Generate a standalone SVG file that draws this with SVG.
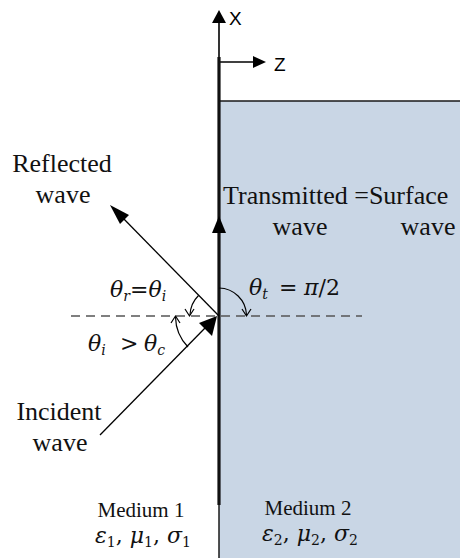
<svg xmlns="http://www.w3.org/2000/svg" width="460" height="558" viewBox="0 0 460 558">
<defs>
<style>
.lbl{font-family:"Liberation Serif","Times New Roman",serif;font-size:26px;fill:#111}
.med{font-family:"Liberation Serif","Times New Roman",serif;font-size:21px;fill:#111}
.math{font-family:"DejaVu Serif",serif;font-style:italic;font-size:22px;fill:#111}
.ax{font-family:"Liberation Sans",Arial,sans-serif;font-size:19px;fill:#000}
.sub{font-size:14px}
.thin{stroke:#000;stroke-width:1.3;fill:none}
.arc{stroke:#000;stroke-width:1.2;fill:none}
</style>
</defs>
<rect x="0" y="0" width="460" height="558" fill="#fff"/>
<g id="medium2">
<rect x="219" y="101" width="243" height="460" fill="#c9d6e5" stroke="#1a1a1a" stroke-width="1.5"/>
</g>
<g id="axes">
<line x1="219" y1="20" x2="219" y2="60" stroke="#000" stroke-width="1.6"/>
<polygon points="219,10 212,23 226,23" fill="#000"/>
<text class="ax" x="229" y="25">X</text>
<line x1="219" y1="62" x2="255" y2="62" stroke="#000" stroke-width="1.3"/>
<polygon points="266,62 253,56 253,68" fill="#000"/>
<text class="ax" x="274" y="71">Z</text>
</g>
<g id="connectors">
<line x1="71" y1="316" x2="362" y2="316" stroke="#555" stroke-width="1.6" stroke-dasharray="9 6"/>
<line x1="219" y1="57" x2="219" y2="505" stroke="#111" stroke-width="3.2"/>
<polygon points="219,216 212,233 226,233" fill="#000"/>
<line x1="219" y1="316" x2="120" y2="215" class="thin"/>
<polygon points="110,205 129,215 120,224" fill="#000"/>
<line x1="100" y1="435" x2="206" y2="327" class="thin"/>
<polygon points="217,316 212,336 199,323" fill="#000"/>
<path class="arc" d="M198.5,295.5 A29,29 0 0 0 190,315"/>
<polyline class="arc" points="185,309 189.5,316 194,309"/>
<path class="arc" d="M188,347 A44,44 0 0 1 175.5,317"/>
<polyline class="arc" points="171,323 175.5,316 180,323"/>
<path class="arc" d="M219,288 A28,28 0 0 1 246.5,315"/>
<polyline class="arc" points="242,309 246.5,316 251,309"/>
</g>
<g id="reflected">
<text class="lbl" x="62" y="172" text-anchor="middle">Reflected</text>
<text class="lbl" x="63" y="203" text-anchor="middle">wave</text>
</g>
<g id="incident">
<text class="lbl" x="59" y="420" text-anchor="middle">Incident</text>
<text class="lbl" x="60" y="451" text-anchor="middle">wave</text>
</g>
<g id="transmitted">
<text class="lbl" x="223" y="204">Transmitted =Surface</text>
<text class="lbl" x="300" y="235" text-anchor="middle">wave</text>
<text class="lbl" x="428" y="235" text-anchor="middle">wave</text>
</g>
<g id="angles">
<text class="math" x="110" y="297">θ<tspan class="sub" dy="4">r</tspan><tspan dy="-4" font-style="normal">=</tspan>θ<tspan class="sub" dy="4">i</tspan></text>
<text class="math" x="88" y="351">θ<tspan class="sub" dy="4">i</tspan><tspan x="120" dy="-4" font-style="normal">&gt;</tspan><tspan x="144">θ</tspan><tspan class="sub" dy="4">c</tspan></text>
<text class="math" x="249" y="295">θ<tspan class="sub" dy="4">t</tspan><tspan x="279" dy="-4" font-style="normal">=</tspan><tspan x="304">π</tspan><tspan font-style="normal">/2</tspan></text>
</g>
<g id="medium1-label">
<text class="med" x="141" y="517" text-anchor="middle">Medium 1</text>
<text class="math" x="143" y="543" text-anchor="middle">ε<tspan class="sub" dy="4" font-style="normal">1</tspan><tspan dy="-4" font-style="normal">, </tspan>μ<tspan class="sub" dy="4" font-style="normal">1</tspan><tspan dy="-4" font-style="normal">, </tspan>σ<tspan class="sub" dy="4" font-style="normal">1</tspan></text>
</g>
<g id="medium2-label">
<text class="med" x="308" y="515" text-anchor="middle">Medium 2</text>
<text class="math" x="310" y="541" text-anchor="middle">ε<tspan class="sub" dy="4" font-style="normal">2</tspan><tspan dy="-4" font-style="normal">, </tspan>μ<tspan class="sub" dy="4" font-style="normal">2</tspan><tspan dy="-4" font-style="normal">, </tspan>σ<tspan class="sub" dy="4" font-style="normal">2</tspan></text>
</g>
</svg>
